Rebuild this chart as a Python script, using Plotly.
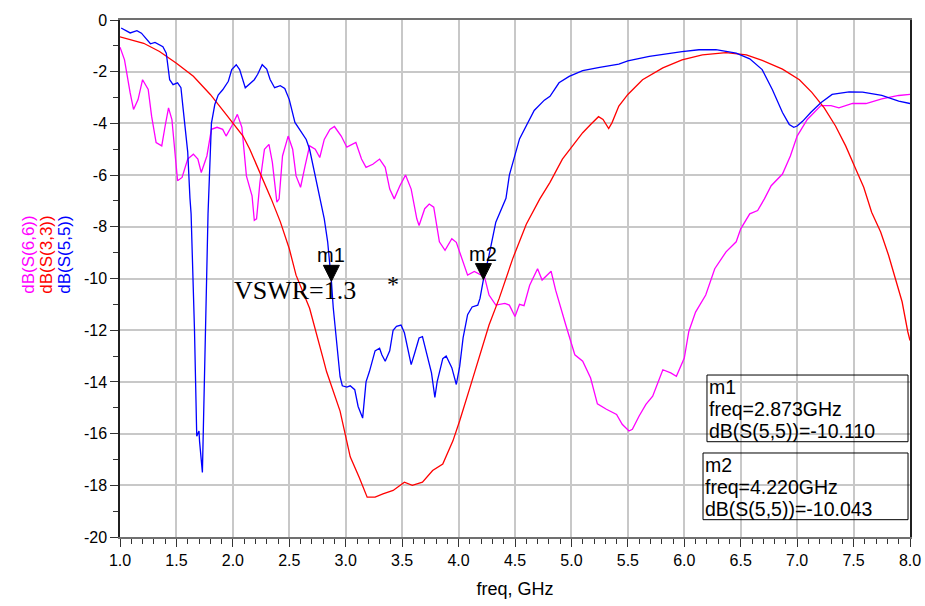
import plotly.graph_objects as go

# ---------------- data ----------------
freq_s55 = [1.01, 1.09, 1.15, 1.19, 1.27, 1.31, 1.38, 1.41, 1.44, 1.47, 1.51, 1.54, 1.56, 1.60, 1.62,
            1.63, 1.66, 1.68, 1.70, 1.705, 1.73, 1.75, 1.78, 1.81, 1.84, 1.87, 1.91, 1.96, 1.99, 2.03,
            2.06, 2.11, 2.15, 2.19, 2.22, 2.26, 2.30, 2.33, 2.37, 2.42, 2.46, 2.50, 2.55, 2.59, 2.65,
            2.68, 2.73, 2.77, 2.81, 2.84, 2.86, 2.873, 2.89, 2.92, 2.95, 2.97, 3.01, 3.04, 3.08, 3.11,
            3.15, 3.18, 3.21, 3.26, 3.30, 3.32, 3.35, 3.39, 3.42, 3.45, 3.49, 3.52, 3.55, 3.58, 3.61,
            3.65, 3.68, 3.71, 3.76, 3.79, 3.81, 3.86, 3.89, 3.94, 3.98, 4.01, 4.04, 4.08, 4.12, 4.17,
            4.19, 4.22, 4.27, 4.33, 4.42, 4.45, 4.54, 4.67, 4.76, 4.81, 4.89, 4.98, 5.10, 5.25, 5.42,
            5.50, 5.69, 5.98, 6.13, 6.28, 6.46, 6.58, 6.69, 6.78, 6.87, 6.93, 6.97, 7.00, 7.05, 7.12,
            7.21, 7.31, 7.46, 7.58, 7.75, 7.90, 8.00]
db_s55 = [-0.31, -0.50, -0.41, -0.51, -0.92, -0.87, -1.03, -1.28, -2.31, -2.50, -2.43, -2.62, -3.46, -5.10, -6.90,
          -7.50, -12.0, -16.1, -15.9, -16.3, -17.5, -13.9, -7.5, -4.0, -3.27, -2.90, -2.70, -2.37, -1.92, -1.73,
          -1.92, -2.62, -2.45, -2.31, -2.10, -1.73, -1.90, -2.30, -2.62, -2.54, -2.65, -3.08, -3.96, -4.23, -4.62,
          -5.00, -6.03, -6.92, -7.69, -8.58, -9.35, -10.11, -11.15, -12.6, -13.8, -14.15, -14.2, -14.15, -14.3, -14.95,
          -15.4, -14.0, -13.6, -12.8, -12.7, -12.95, -13.2, -12.8, -12.0, -11.85, -11.8, -12.1, -12.7, -13.33, -12.9,
          -12.3, -12.25, -12.8, -13.65, -14.6, -14.0, -13.1, -13.0, -13.45, -14.1, -13.4, -12.3, -11.4, -11.1, -11.03,
          -10.77, -10.04, -9.1, -7.82, -6.9, -6.0, -4.6, -3.5, -3.1, -2.95, -2.43, -2.18, -1.96, -1.83, -1.71,
          -1.58, -1.41, -1.22, -1.15, -1.15, -1.28, -1.50, -1.92, -2.69, -3.58, -4.04, -4.15, -4.10, -3.91, -3.58,
          -3.20, -2.88, -2.78, -2.79, -2.92, -3.14, -3.23]

freq_s33 = [1.00, 1.21, 1.35, 1.50, 1.65, 1.80, 1.94, 2.09, 2.15, 2.24, 2.34, 2.42, 2.50, 2.56, 2.64,
            2.68, 2.80, 2.83, 2.95, 3.04, 3.12, 3.19, 3.26, 3.33, 3.42, 3.52, 3.59, 3.68, 3.77, 3.86,
            3.95, 4.01, 4.10, 4.19, 4.27, 4.36, 4.48, 4.60, 4.72, 4.81, 4.92, 5.01, 5.10, 5.17, 5.24,
            5.28, 5.33, 5.36, 5.42, 5.50, 5.63, 5.81, 5.98, 6.16, 6.37, 6.55, 6.69, 6.87, 7.02, 7.13,
            7.24, 7.34, 7.43, 7.52, 7.59, 7.66, 7.74, 7.81, 7.87, 7.93, 7.98, 8.00]
db_s33 = [-0.65, -0.90, -1.22, -1.67, -2.18, -2.88, -3.65, -4.49, -5.0, -5.9, -6.92, -7.8, -8.85, -9.87, -10.77,
          -11.15, -13.1, -13.6, -15.13, -16.9, -17.7, -18.46, -18.46, -18.33, -18.2, -17.88, -18.0, -17.88, -17.43, -17.18,
          -16.28, -15.5, -14.23, -12.95, -11.8, -10.77, -9.23, -7.9, -6.92, -6.28, -5.38, -4.87, -4.36, -4.04, -3.74,
          -3.85, -4.2, -3.97, -3.33, -2.88, -2.31, -1.85, -1.54, -1.35, -1.26, -1.35, -1.56, -1.90, -2.31, -2.80,
          -3.40, -4.10, -4.87, -5.77, -6.47, -7.44, -8.20, -9.10, -10.0, -10.9, -12.05, -12.4]

freq_s66 = [1.00, 1.04, 1.09, 1.12, 1.16, 1.20, 1.25, 1.28, 1.32, 1.37, 1.40, 1.43, 1.46, 1.49, 1.51,
            1.55, 1.60, 1.65, 1.69, 1.72, 1.77, 1.81, 1.86, 1.91, 1.94, 1.99, 2.04, 2.08, 2.12, 2.17,
            2.19, 2.21, 2.24, 2.28, 2.32, 2.35, 2.39, 2.41, 2.44, 2.49, 2.53, 2.56, 2.60, 2.64, 2.68,
            2.73, 2.77, 2.81, 2.86, 2.90, 2.96, 3.01, 3.06, 3.09, 3.14, 3.18, 3.24, 3.30, 3.35, 3.39,
            3.43, 3.48, 3.53, 3.58, 3.63, 3.65, 3.70, 3.74, 3.78, 3.83, 3.88, 3.94, 3.98, 4.04, 4.08,
            4.14, 4.21, 4.23, 4.27, 4.33, 4.41, 4.45, 4.50, 4.54, 4.58, 4.63, 4.70, 4.74, 4.82, 4.86,
            4.95, 5.03, 5.10, 5.17, 5.23, 5.31, 5.40, 5.45, 5.51, 5.54, 5.60, 5.66, 5.72, 5.81, 5.88,
            5.93, 6.00, 6.04, 6.10, 6.19, 6.27, 6.37, 6.46, 6.50, 6.58, 6.65, 6.71, 6.77, 6.87, 6.94,
            7.00, 7.09, 7.21, 7.30, 7.37, 7.49, 7.61, 7.75, 7.90, 8.00]
db_s66 = [-1.05, -1.54, -2.82, -3.46, -3.08, -2.31, -2.69, -3.72, -4.74, -4.87, -4.10, -3.40, -3.85, -5.13, -6.22,
          -6.09, -5.38, -5.19, -5.38, -5.90, -5.26, -4.23, -4.15, -4.23, -4.49, -4.10, -3.65, -4.15, -6.03, -6.80,
          -7.75, -7.69, -6.28, -5.00, -4.81, -5.51, -7.05, -6.92, -5.26, -4.49, -5.00, -6.03, -6.47, -5.64, -4.87,
          -5.00, -5.32, -4.62, -4.23, -4.12, -4.49, -4.92, -4.81, -4.74, -5.38, -5.70, -5.58, -5.38, -5.70, -6.54,
          -6.92, -6.41, -6.00, -6.54, -7.69, -7.95, -7.30, -7.12, -7.24, -8.58, -8.91, -8.46, -8.60, -9.35, -9.87,
          -9.73, -9.87, -9.94, -10.64, -11.03, -10.96, -11.03, -11.47, -11.00, -11.05, -10.26, -9.62, -10.06, -9.72, -10.45,
          -11.80, -12.95, -13.20, -13.85, -14.85, -15.06, -15.26, -15.64, -15.90, -15.83, -15.32, -14.87, -14.55, -13.53, -13.65,
          -13.78, -13.08, -12.05, -11.30, -10.64, -9.62, -8.97, -8.58, -8.08, -7.50, -7.37, -6.92, -6.41, -5.96, -5.26,
          -4.49, -3.85, -3.31, -3.31, -3.40, -3.23, -3.23, -3.05, -2.92, -2.88]

x_tick_vals = [1.0, 1.5, 2.0, 2.5, 3.0, 3.5, 4.0, 4.5, 5.0, 5.5, 6.0, 6.5, 7.0, 7.5, 8.0]
x_tick_text = ["1.0", "1.5", "2.0", "2.5", "3.0", "3.5", "4.0", "4.5", "5.0", "5.5", "6.0", "6.5", "7.0", "7.5", "8.0"]
y_tick_vals = [0, -2, -4, -6, -8, -10, -12, -14, -16, -18, -20]
y_tick_text = ["0", "-2", "-4", "-6", "-8", "-10", "-12", "-14", "-16", "-18", "-20"]

series_names = ["dB(S(6,6))", "dB(S(3,3))", "dB(S(5,5))"]
series_colors = ["#ff00ff", "#ff0000", "#0000ff"]

marker_names = ["m1", "m2"]
marker_freq = [2.873, 4.220]
marker_db = [-10.110, -10.043]

# ---------------- figure ----------------
fig = go.Figure()
for fx, fy, name, col in [(freq_s66, db_s66, series_names[0], series_colors[0]),
                          (freq_s33, db_s33, series_names[1], series_colors[1]),
                          (freq_s55, db_s55, series_names[2], series_colors[2])]:
    fig.add_trace(go.Scatter(x=fx, y=fy, mode="lines", name=name,
                             line=dict(color=col, width=1.3), showlegend=False))

ann = []
shapes = []

# vertical colored series labels on the left
for i, (name, col) in enumerate(zip(series_names, series_colors)):
    ann.append(dict(xref="paper", yref="paper", x=0, y=0.545, xshift=-103 + 18 * i,
                    text=name, textangle=-90, showarrow=False,
                    font=dict(family="Liberation Sans, Arial", size=17, color=col)))

# markers (triangles + labels)
for name, mf, md in zip(marker_names, marker_freq, marker_db):
    shapes.append(dict(type="path", xref="x", yref="y", xsizemode="pixel", ysizemode="pixel",
                       xanchor=mf, yanchor=md, path="M-8,16 L8,16 L0,0 Z",
                       fillcolor="black", line=dict(color="black", width=1)))
    ann.append(dict(x=mf, y=md, xref="x", yref="y", text=name, showarrow=False,
                    yanchor="bottom", yshift=13,
                    font=dict(family="Liberation Sans, Arial", size=20, color="black")))

# marker readout boxes
box_tops = [0.3133, 0.1625]
box_lefts = [0.743, 0.738]
for k, (name, mf, md) in enumerate(zip(marker_names, marker_freq, marker_db)):
    top = box_tops[k]
    x0 = box_lefts[k]
    shapes.append(dict(type="rect", xref="paper", yref="paper", x0=x0, x1=0.9975,
                       y0=top - 0.129, y1=top, line=dict(color="black", width=1),
                       fillcolor="rgba(0,0,0,0)"))
    lines = [name, "freq=%.3fGHz" % mf, "dB(S(5,5))=%.3f" % md]
    for j, t in enumerate(lines):
        ann.append(dict(xref="paper", yref="paper", x=x0, y=top, xanchor="left", yanchor="top",
                        xshift=1, yshift=-j * 22, text=t, showarrow=False, borderpad=0,
                        font=dict(family="Liberation Sans, Arial", size=19.5, color="black")))

# VSWR text
ann.append(dict(x=1.99, y=-10.45, xref="x", yref="y", xanchor="left", text="VSWR=1.3",
                showarrow=False, font=dict(family="Liberation Serif, Times New Roman", size=26, color="black")))
ann.append(dict(x=3.42, y=-10.2, xref="x", yref="y", text="*",
                showarrow=False, font=dict(family="Liberation Serif, Times New Roman", size=24, color="black")))

fig.update_layout(
    width=925, height=606,
    margin=dict(l=120, r=15, t=20, b=69, autoexpand=False),
    paper_bgcolor="white", plot_bgcolor="white",
    annotations=ann, shapes=shapes,
    font=dict(family="Liberation Sans, Arial", color="black"),
)
fig.update_xaxes(range=[1, 8], tickvals=x_tick_vals, ticktext=x_tick_text, automargin=False,
                 showgrid=True, gridcolor="#c8c8c8", gridwidth=1.5,
                 showline=True, linecolor="#707070", linewidth=2, mirror=True,
                 ticks="outside", ticklen=8, tickcolor="#333", tickwidth=1,
                 minor=dict(dtick=0.1, tick0=1.0, ticks="outside", ticklen=5, tickcolor="#333", showgrid=False),
                 tickfont=dict(size=16, family="Liberation Sans, Arial"),
                 title=dict(text="freq, GHz", font=dict(size=18, family="Liberation Sans, Arial"), standoff=14),
                 zeroline=False)
fig.update_yaxes(range=[-20, 0], tickvals=y_tick_vals, ticktext=y_tick_text, automargin=False,
                 showgrid=True, gridcolor="#c8c8c8", gridwidth=1.5,
                 showline=True, linecolor="#202020", linewidth=1.5, mirror=True,
                 ticks="outside", ticklen=8, tickcolor="#333", tickwidth=1,
                 minor=dict(dtick=1, tick0=0, ticks="outside", ticklen=5, tickcolor="#333", showgrid=False),
                 tickfont=dict(size=16, family="Liberation Sans, Arial"),
                 zeroline=False)

fig.write_html("out.html")
